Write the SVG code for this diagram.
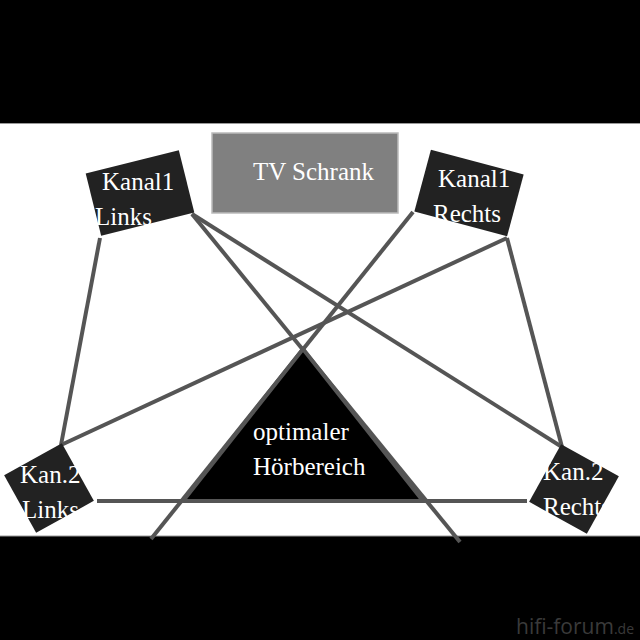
<svg xmlns="http://www.w3.org/2000/svg" width="640" height="640" viewBox="0 0 640 640">
<style>
.bar{fill:#000}
.ln{stroke:#555;stroke-width:4;fill:none;stroke-linecap:butt}
.box{fill:#222}
.t{font-family:"Liberation Serif","Times New Roman",serif;font-size:25px;fill:#fff}
.wm{font-family:"Open Sans","DejaVu Sans",sans-serif;fill:#3a3a3a}
</style>
<rect width="640" height="640" fill="#fff"/>
<rect class="bar" x="0" y="0" width="640" height="123"/>
<line x1="0" y1="123.5" x2="640" y2="123.5" stroke="#999" stroke-width="1"/>
<rect class="bar" x="0" y="536" width="640" height="104"/>
<line x1="0" y1="536" x2="640" y2="536" stroke="#999" stroke-width="1"/>
<g id="connectors">
<line class="ln" x1="100" y1="238" x2="61" y2="445"/>
<line class="ln" x1="192" y1="214" x2="460" y2="542"/>
<line class="ln" x1="192" y1="214" x2="562" y2="447"/>
<line class="ln" x1="413" y1="212" x2="151" y2="539"/>
<line class="ln" x1="507" y1="238" x2="61" y2="445"/>
<line class="ln" x1="507" y1="238" x2="562" y2="447"/>
</g>
<g id="hoerbereich">
<polygon points="303,349 183,501 423,501" fill="#000" stroke="#555" stroke-width="4" stroke-linejoin="miter"/>
<text class="t" x="253" y="440">optimaler</text>
<text class="t" x="253" y="475">Hörbereich</text>
</g>
<g id="connectors2">
<line class="ln" x1="97" y1="501" x2="527" y2="501"/>
</g>
<g id="tv">
<rect x="212" y="133" width="186" height="80" fill="#808080" stroke="#bbb" stroke-width="1.5"/>
<text class="t" x="253" y="180">TV Schrank</text>
</g>
<g id="k1l">
<rect class="box" x="92" y="161" width="96" height="64" transform="rotate(-14 140 193)"/>
<text class="t" x="102" y="190">Kanal1</text>
<text class="t" x="95" y="225">Links</text>
</g>
<g id="k1r">
<rect class="box" x="421" y="161" width="96" height="64" transform="rotate(15 469 193)"/>
<text class="t" x="438" y="187">Kanal1</text>
<text class="t" x="433" y="222">Rechts</text>
</g>
<g id="k2l">
<rect class="box" x="16" y="455" width="66" height="66" transform="rotate(-29 49 488)"/>
<text class="t" x="20" y="483">Kan.2</text>
<text class="t" x="22" y="518">Links</text>
</g>
<g id="k2r">
<rect class="box" x="541" y="456" width="66" height="66" transform="rotate(29 574 489)"/>
<text class="t" x="543" y="480">Kan.2</text>
<text class="t" x="543" y="515">Rechts</text>
</g>
<g id="watermark">
<text class="wm" x="516" y="634" font-size="21">hifi-forum<tspan font-size="14">.de</tspan></text>
</g>
</svg>
